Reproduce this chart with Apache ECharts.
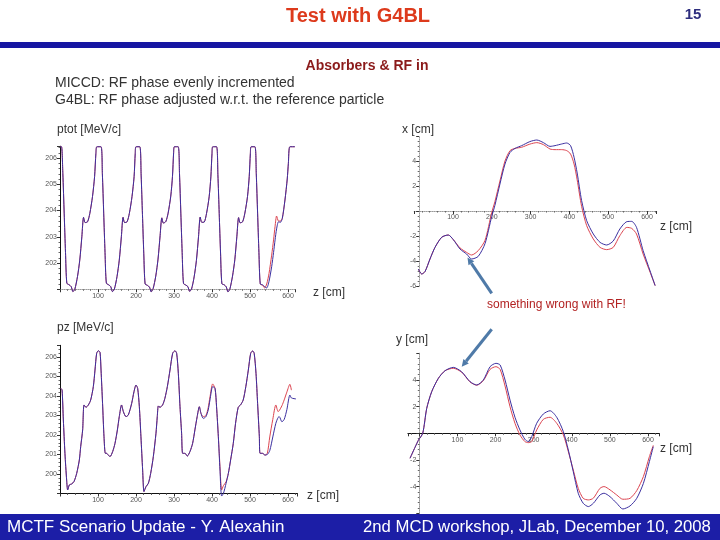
<!DOCTYPE html>
<html><head><meta charset="utf-8">
<script src="https://cdn.jsdelivr.net/npm/echarts@6/dist/echarts.min.js"></script>
<style>html,body{margin:0;padding:0;background:#fff}#c{width:720px;height:540px}</style>
</head><body><div id="c"></div>
<script>
// ---- tick labels ----
const zTickLabels = [100, 200, 300, 400, 500, 600];
const ptotTickLabels = [202, 203, 204, 205, 206];
const pzTickLabels = [200, 201, 202, 203, 204, 205, 206];
const xTickLabels = [-6, -4, -2, 2, 4];
const yTickLabels = [-4, -2, 2, 4];

// ---- ptot [MeV/c] vs z [cm] ----
const ptotZ = [0, 4, 7.5, 11, 14.5, 18, 24, 29.5, 34, 39, 46, 52, 57.5, 62, 66, 72.5, 78.5, 85.5, 91, 94.5, 97, 108,
  111.5, 115, 118.5, 122, 128, 133.5, 138, 143, 150, 156, 161.5, 166, 170, 176.5, 182.5, 189.5, 195, 198, 200, 210,
  213.5, 217, 220.5, 224, 230, 235.5, 240, 245, 252, 258, 263.5, 268, 272, 278.5, 284.5, 291.5, 296, 299, 301, 311,
  314.5, 318, 321.5, 325, 331, 336.5, 341, 346, 353, 359, 364.5, 369, 373, 379.5, 385.5, 392.5, 397, 400, 402, 412,
  415.5, 419, 422.5, 426, 432, 437.5, 442, 447, 454, 460, 465.5, 470, 474, 480.5, 486.5, 493.5, 498, 501, 503, 513,
  516.5, 520, 523.5, 527, 533, 538.5, 544, 550, 557, 562, 566, 570, 575, 580, 585, 592, 598, 601, 605, 618];
const ptotBlue = [206.43, 206.43, 205.4, 203.9, 202.4, 201.23, 201.17, 201.10, 200.91, 201.0, 201.48, 202.11, 203.0, 203.74, 203.54, 203.57, 203.89, 204.53, 205.29, 206.18, 206.43, 206.43,
  205.4, 203.9, 202.4, 201.23, 201.17, 201.10, 200.91, 201.0, 201.48, 202.11, 203.0, 203.74, 203.54, 203.57, 203.89, 204.53, 205.29, 206.18, 206.43, 206.43,
  205.35, 203.85, 202.35, 201.2, 201.15, 201.08, 200.9, 201.02, 201.5, 202.15, 203.05, 203.72, 203.52, 203.58, 203.9, 204.55, 205.3, 206.2, 206.43, 206.43,
  205.4, 203.9, 202.4, 201.22, 201.16, 201.1, 200.92, 201.0, 201.47, 202.1, 203.0, 203.75, 203.55, 203.56, 203.88, 204.52, 205.28, 206.17, 206.43, 206.43,
  205.38, 203.88, 202.38, 201.21, 201.17, 201.09, 200.9, 201.01, 201.5, 202.12, 203.02, 203.73, 203.53, 203.57, 203.9, 204.54, 205.3, 206.18, 206.43, 206.43,
  205.4, 203.9, 202.4, 201.2, 201.17, 201.1, 201.05, 201.3, 201.86, 202.4, 202.88, 203.3, 203.57, 203.55, 203.7, 204.4, 205.2, 205.8, 206.43, 206.43];
const ptotRed = [206.43, 206.43, 205.4, 203.9, 202.4, 201.23, 201.17, 201.10, 200.91, 201.0, 201.48, 202.11, 203.0, 203.74, 203.54, 203.57, 203.89, 204.53, 205.29, 206.18, 206.43, 206.43,
  205.4, 203.9, 202.4, 201.23, 201.17, 201.10, 200.91, 201.0, 201.48, 202.11, 203.0, 203.74, 203.54, 203.57, 203.89, 204.53, 205.29, 206.18, 206.43, 206.43,
  205.35, 203.85, 202.35, 201.2, 201.15, 201.08, 200.9, 201.02, 201.5, 202.15, 203.05, 203.72, 203.52, 203.58, 203.9, 204.55, 205.3, 206.2, 206.43, 206.43,
  205.4, 203.9, 202.4, 201.22, 201.16, 201.1, 200.92, 201.0, 201.47, 202.1, 203.0, 203.75, 203.55, 203.56, 203.88, 204.52, 205.28, 206.17, 206.43, 206.43,
  205.38, 203.88, 202.38, 201.21, 201.17, 201.09, 200.9, 201.01, 201.5, 202.12, 203.02, 203.73, 203.53, 203.57, 203.9, 204.54, 205.3, 206.18, 206.43, 206.43,
  205.4, 203.9, 202.4, 201.2, 201.15, 201.05, 201.2, 201.6, 202.3, 202.88, 203.4, 203.79, 203.6, 203.6, 203.7, 204.4, 205.2, 205.8, 206.43, 206.43];

// ---- pz [MeV/c] vs z [cm] ----
const pzZ = [2.6, 5.5, 8.8, 13, 17.5, 20.2, 24.6, 30.7, 36.8, 43.9,
  50.9, 54.4, 59.6, 63.2, 68.4, 74.6, 80.7, 87.7, 92.1, 96.5,
  100.9, 105.3, 108, 112, 115.8, 119.3, 122.8, 127, 131.6, 138.6,
  144.7, 151, 156, 162, 166.7, 173.7, 179.8, 188.6, 194.7, 200,
  204.4, 208.8, 213, 217.5, 221, 226.3, 232.5, 238.6, 245.6, 252.6,
  256, 258.8, 263, 270, 276, 282.5, 289.5, 296.5, 302.6, 307,
  311.4, 315.8, 320, 322.8, 329, 335, 342, 349, 355, 361,
  366.7, 371, 377, 384, 390, 394.7, 401.8, 408, 412, 416.7,
  421, 425.4, 430, 437, 443, 449, 456, 462, 469, 475,
  482, 489, 495.6, 501.8, 507, 511, 515.8, 520, 524.6, 526.5,
  533, 539.5, 545.6, 552, 560, 568, 574, 577, 584, 590,
  597, 605, 609, 621];
const pzBlue = [204.39, 204.3, 202.77, 201.06, 199.69, 199.18, 199.44, 199.49, 199.61, 200.03,
  200.72, 201.4, 202.26, 203.54, 203.42, 203.54, 203.79, 204.48, 205.33, 206.19,
  206.32, 206.24, 205.33, 203.62, 201.91, 201.06, 201.06, 200.97, 200.89, 201.15,
  201.57, 202.26, 202.94, 203.54, 203.2, 202.94, 203.03, 203.62, 204.22, 204.56,
  204.39, 203.45, 201.91, 200.2, 199.1, 199.35, 199.52, 200.03, 200.89, 202.09,
  202.94, 203.49, 203.42, 203.54, 203.88, 204.48, 205.33, 206.19, 206.32, 206.19,
  205.16, 203.45, 202.09, 201.06, 201.06, 200.92, 201.15, 201.57, 202.26, 202.94,
  203.45, 203.11, 202.85, 202.94, 203.28, 203.8, 204.48, 204.39, 203.45, 201.91,
  200.2, 198.87, 199.0, 199.52, 200.03, 200.72, 201.57, 202.6, 203.42, 203.54,
  203.79, 204.48, 205.33, 206.19, 206.31, 206.19, 205.16, 203.62, 201.91, 201.06,
  201.06, 200.97, 201.0, 201.2, 201.9, 202.6, 202.9, 202.94, 202.68, 202.8,
  203.3, 204.05, 203.9, 203.85];
const pzRed = [204.39, 204.3, 202.77, 201.06, 199.69, 199.18, 199.44, 199.49, 199.61, 200.03,
  200.72, 201.4, 202.26, 203.54, 203.42, 203.54, 203.79, 204.48, 205.33, 206.19,
  206.32, 206.24, 205.33, 203.62, 201.91, 201.06, 201.06, 200.97, 200.89, 201.15,
  201.57, 202.26, 202.94, 203.54, 203.2, 202.94, 203.03, 203.62, 204.22, 204.56,
  204.39, 203.45, 201.91, 200.2, 199.1, 199.35, 199.52, 200.03, 200.89, 202.09,
  202.94, 203.49, 203.42, 203.54, 203.88, 204.48, 205.33, 206.19, 206.32, 206.19,
  205.16, 203.45, 202.09, 201.06, 201.06, 200.92, 201.15, 201.57, 202.26, 202.94,
  203.45, 203.11, 202.94, 203.0, 203.4, 203.95, 204.62, 204.39, 203.45, 201.91,
  200.4, 199.18, 199.4, 199.6, 200.03, 200.72, 201.57, 202.6, 203.42, 203.54,
  203.79, 204.48, 205.33, 206.19, 206.31, 206.19, 205.16, 203.62, 201.91, 201.06,
  201.06, 200.97, 201.06, 201.9, 202.8, 203.54, 203.2, 203.25, 203.5, 203.8,
  204.2, 204.6, 204.3, null];

// ---- x [cm] vs z [cm] ----
const xZ = [10.6, 19.3, 27.8, 40.7, 53.6, 70.9, 87.9, 100.8, 118, 135,
  148, 165, 182.5, 199.7, 208, 221, 234, 247, 260, 277,
  298, 316, 333, 350, 363, 380, 393, 403, 412, 420,
  431.5, 444.5, 461.6, 479, 496, 513, 530, 548, 560.5, 573,
  590, 608, 621];
const xBlue = [-4.64, -5.04, -4.85, -3.84, -2.91, -2.1, -1.92, -2.29, -3.04, -3.44,
  -3.84, -3.63, -2.61, -0.45, 0.45, 2.16, 3.76, 4.69, 5.01, 5.23,
  5.55, 5.68, 5.47, 5.17, 5.23, 5.36, 5.44, 5.23, 4.3, 3.04,
  0.83, -0.77, -1.84, -2.51, -2.72, -2.4, -1.44, -0.85, -0.83, -1.31,
  -3.17, -4.8, -5.97];
const xRed = [-4.64, -5.04, -4.85, -3.84, -2.91, -2.1, -1.92, -2.29, -2.95, -3.31,
  -3.52, -3.17, -2.35, -0.13, 0.75, 2.4, 4.0, 4.83, 5.01, 5.1,
  5.35, 5.47, 5.31, 4.96, 4.91, 4.91, 4.83, 4.56, 3.76, 2.5,
  0.37, -1.17, -2.24, -2.91, -3.09, -2.91, -1.97, -1.31, -1.39, -1.84,
  -3.44, -4.9, -5.97];

// ---- y [cm] vs z [cm] ----
const yZ = [-24.4, -11.3, -2.6, 8.9, 19.4, 32.5, 50, 67.5, 89.2, 111,
  133, 150.6, 168, 185.6, 201, 212, 225, 238, 251, 264,
  277, 286, 295, 308, 325.5, 343, 360.6, 378, 391, 404,
  417, 430, 443.6, 456.7, 474, 484.8, 500.5, 518, 534, 553,
  570.6, 588, 603.7, 614];
const yBlue = [-1.87, -1.05, -0.53, 0, 1.87, 3.12, 4.12, 4.69, 4.94, 4.61,
  3.87, 3.62, 3.99, 4.99, 5.24, 5.12, 3.99, 2.49, 1.2, 0.25,
  -0.45, -0.62, -0.25, 0.75, 1.45, 1.69, 1.2, 0.12, -1.25, -2.87,
  -4.49, -5.24, -5.49, -5.24, -4.62, -4.49, -4.75, -5.24, -5.67, -5.44,
  -4.87, -3.75, -2.12, -1.0];
const yRed = [-1.87, -1.05, -0.53, 0, 1.87, 3.12, 4.12, 4.69, 4.87, 4.58,
  3.85, 3.6, 3.95, 4.79, 4.99, 4.79, 3.54, 1.99, 0.75, -0.12,
  -0.62, -0.70, -0.62, 0.25, 1.05, 1.2, 0.75, -0.12, -1.37, -2.75,
  -4.12, -4.87, -4.99, -4.86, -4.12, -3.99, -4.24, -4.62, -4.94, -4.87,
  -4.29, -3.24, -1.75, -0.9];

// ---- build chart ----
const FONT = '"Liberation Sans", Arial, sans-serif';
const BLUE = '#3b2fa0';
const RED = '#dc4450';
const pairs = (zs, vs) => zs.map((z, i) => [z, vs[i]]);
const pick = list => v => (list.indexOf(Math.round(v * 1000) / 1000) >= 0 ? String(v) : '');

function axisStyle(solid) {
  return solid
    ? { show: true, onZero: false, lineStyle: { color: '#111', width: 1 } }
    : { show: true, onZero: false, lineStyle: { color: '#9a9a9a', width: 1, type: 'dotted' } };
}
const tickStyle = { show: true, length: 3, lineStyle: { color: '#333', width: 1 } };
const minorStyle = { show: true, splitNumber: 5, length: 1.5, lineStyle: { color: '#666', width: 1 } };
const labelStyle = list => ({ fontSize: 7, color: '#555', margin: 3, fontFamily: FONT, formatter: pick(list) });

const grids = [
  { left: 60, top: 146.2, width: 235.6, height: 143.05 },
  { left: 414.2, top: 136, width: 242.5, height: 150 },
  { left: 60, top: 345.3, width: 237.5, height: 148.2 },
  { left: 407.9, top: 353.2, width: 251.5, height: 160.2 }
];

const xAxes = [
  { gridIndex: 0, type: 'value', min: 0, max: 620, interval: 100, axisLine: axisStyle(false), axisTick: tickStyle, minorTick: minorStyle, axisLabel: labelStyle(zTickLabels), splitLine: { show: false } },
  { gridIndex: 1, type: 'value', min: 0, max: 625, interval: 100, offset: -75, axisLine: axisStyle(false), axisTick: tickStyle, minorTick: minorStyle, axisLabel: labelStyle(zTickLabels), splitLine: { show: false } },
  { gridIndex: 2, type: 'value', min: 0, max: 625, interval: 100, axisLine: axisStyle(true), axisTick: tickStyle, minorTick: minorStyle, axisLabel: labelStyle(zTickLabels), splitLine: { show: false } },
  { gridIndex: 3, type: 'value', min: -30, max: 630, splitNumber: 7, offset: -80.1, axisLine: axisStyle(true), axisTick: tickStyle, minorTick: minorStyle, axisLabel: labelStyle(zTickLabels), splitLine: { show: false } }
];
const yAxes = [
  { gridIndex: 0, type: 'value', min: 201, max: 206.45, interval: 1, axisLine: axisStyle(true), axisTick: tickStyle, minorTick: minorStyle, axisLabel: labelStyle(ptotTickLabels), splitLine: { show: false } },
  { gridIndex: 1, type: 'value', min: -6, max: 6, interval: 2, offset: -5, axisLine: axisStyle(false), axisTick: tickStyle, minorTick: minorStyle, axisLabel: labelStyle(xTickLabels), splitLine: { show: false } },
  { gridIndex: 2, type: 'value', min: 199, max: 206.6, interval: 1, axisLine: axisStyle(true), axisTick: tickStyle, minorTick: minorStyle, axisLabel: labelStyle(pzTickLabels), splitLine: { show: false } },
  { gridIndex: 3, type: 'value', min: -6, max: 6, interval: 2, offset: -11.4, axisLine: axisStyle(false), axisTick: tickStyle, minorTick: minorStyle, axisLabel: labelStyle(yTickLabels), splitLine: { show: false } }
];

function line(idx, zs, vs, color, name) {
  return {
    name: name, type: 'line', xAxisIndex: idx, yAxisIndex: idx,
    data: pairs(zs, vs), showSymbol: false, symbol: 'none', clip: false,
    smooth: 0.25, connectNulls: false,
    lineStyle: { color: color, width: 1 }, itemStyle: { color: color },
    silent: true
  };
}
const series = [
  line(0, ptotZ, ptotRed, RED, 'MICCD ptot'), line(0, ptotZ, ptotBlue, BLUE, 'G4BL ptot'),
  line(1, xZ, xRed, RED, 'MICCD x'), line(1, xZ, xBlue, BLUE, 'G4BL x'),
  line(2, pzZ, pzRed, RED, 'MICCD pz'), line(2, pzZ, pzBlue, BLUE, 'G4BL pz'),
  line(3, yZ, yRed, RED, 'MICCD y'), line(3, yZ, yBlue, BLUE, 'G4BL y')
];

function txt(text, x, y, font, color, align) {
  return { type: 'text', x: x, y: y, silent: true, z: 100,
    style: { text: text, font: font, fill: color, align: align || 'left', textAlign: align || 'left', verticalAlign: 'middle', textVerticalAlign: 'middle' } };
}
function arrow(x1, y1, bx, by, tip, b1, b2) {
  return [
    { type: 'line', silent: true, z: 100, shape: { x1: x1, y1: y1, x2: bx, y2: by }, style: { stroke: '#4f7aa8', lineWidth: 3 } },
    { type: 'polygon', silent: true, z: 100, shape: { points: [tip, b1, b2] }, style: { fill: '#4f7aa8' } }
  ];
}

const graphics = [
  { type: 'rect', silent: true, z: 50, shape: { x: 0, y: 42, width: 720, height: 6 }, style: { fill: '#1616a2' } },
  { type: 'rect', silent: true, z: 50, shape: { x: 0, y: 514, width: 720, height: 26 }, style: { fill: '#1c1ea6' } },
  txt('Test with G4BL', 358, 16, 'bold 20px ' + FONT, '#dd3a1c', 'center'),
  txt('15', 693, 15, 'bold 15px ' + FONT, '#2e2e7e', 'center'),
  txt('Absorbers & RF in', 367, 66, 'bold 14px ' + FONT, '#8b1a1a', 'center'),
  txt('MICCD: RF phase evenly incremented', 55, 83, '14px ' + FONT, '#333333'),
  txt('G4BL: RF phase adjusted w.r.t. the reference particle', 55, 100, '14px ' + FONT, '#333333'),
  txt('ptot [MeV/c]', 57, 130, '12px ' + FONT, '#333333'),
  txt('x [cm]', 402, 130, '12px ' + FONT, '#333333'),
  txt('z [cm]', 313, 293, '12px ' + FONT, '#333333'),
  txt('z [cm]', 660, 227, '12px ' + FONT, '#333333'),
  txt('something wrong with RF!', 487, 305, '12px ' + FONT, '#b22222'),
  txt('pz [MeV/c]', 57, 328, '12px ' + FONT, '#333333'),
  txt('y [cm]', 396, 340, '12px ' + FONT, '#333333'),
  txt('z [cm]', 307, 496, '12px ' + FONT, '#333333'),
  txt('z [cm]', 660, 449, '12px ' + FONT, '#333333'),
  txt('MCTF Scenario Update - Y. Alexahin', 7, 527, '17px ' + FONT, '#ffffff'),
  txt('2nd MCD workshop, JLab, December 10, 2008', 363, 527, '16.7px ' + FONT, '#ffffff')
].concat(
  arrow(491.7, 293.3, 471.4, 263.3, [467.5, 257.5], [474.3, 261.3], [468.5, 265.3]),
  arrow(491.7, 329.3, 466.1, 361.2, [461.7, 366.7], [468.8, 363.4], [463.4, 359.0])
);

const chart = echarts.init(document.getElementById('c'), null, { renderer: 'canvas' });
chart.setOption({
  animation: false,
  backgroundColor: '#ffffff',
  grid: grids,
  xAxis: xAxes,
  yAxis: yAxes,
  series: series,
  graphic: graphics
});
</script>
</body></html>
